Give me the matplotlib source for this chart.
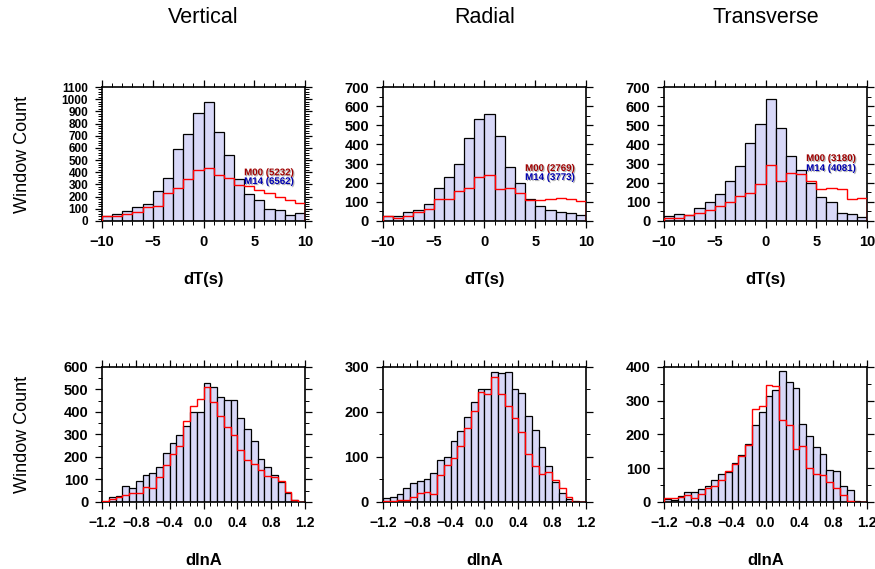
import numpy as np
import matplotlib
matplotlib.use("Agg")
import matplotlib.pyplot as plt
from matplotlib.ticker import MultipleLocator
import matplotlib.patheffects as pe

plt.rcParams['font.family'] = ['Liberation Sans', 'DejaVu Sans']

components = ["Vertical", "Radial", "Transverse"]

# dT histograms, 20 bins of 1 s from -10 to 10
dt_edges = np.arange(-10, 11, 1)
dt_m14_vertical = [44, 57, 79, 112, 136, 243, 355, 590, 718, 890,
                   977, 731, 543, 341, 224, 172, 101, 87, 52, 63]
dt_m00_vertical = [38, 44, 57, 74, 112, 126, 229, 267, 347, 420,
                   434, 379, 355, 295, 284, 251, 227, 199, 172, 145]
dt_m14_radial = [28, 28, 45, 56, 87, 170, 231, 300, 436, 531,
                 561, 446, 280, 200, 113, 76, 56, 45, 40, 30]
dt_m00_radial = [24, 17, 26, 45, 61, 113, 113, 156, 170, 231,
                 241, 167, 170, 144, 111, 111, 115, 122, 113, 102]
dt_m14_transverse = [28, 35, 33, 66, 101, 139, 207, 285, 405, 505,
                     636, 486, 340, 266, 201, 123, 101, 40, 35, 19]
dt_m00_transverse = [17, 17, 30, 40, 57, 76, 101, 130, 146, 191,
                     295, 208, 252, 247, 207, 167, 172, 167, 115, 118]

# dlnA histograms, 30 bins of 0.08 from -1.2 to 1.2
dlna_edges = np.linspace(-1.2, 1.2, 31)
dlna_m14_vertical = [2, 22, 27, 71, 62, 95, 122, 129, 157, 217,
                     261, 296, 339, 400, 400, 529, 509, 465, 451, 454,
                     374, 325, 273, 190, 154, 120, 88, 42, 10, 1]
dlna_m00_vertical = [4, 12, 22, 30, 39, 42, 65, 61, 110, 163,
                     212, 248, 358, 425, 459, 511, 444, 380, 333, 297,
                     232, 187, 168, 140, 116, 113, 94, 46, 9, 1]
dlna_m14_radial = [9, 11, 17, 31, 42, 46, 50, 65, 93, 99,
                   135, 158, 189, 223, 250, 252, 289, 286, 289, 252,
                   243, 190, 160, 123, 81, 45, 21, 6, 2, 0]
dlna_m00_radial = [3, 3, 4, 4, 10, 19, 23, 18, 60, 82,
                   98, 125, 165, 203, 245, 241, 277, 241, 214, 186,
                   155, 106, 79, 62, 66, 49, 30, 10, 1, 0]
dlna_m14_transverse = [8, 5, 19, 31, 31, 38, 46, 65, 82, 89,
                       115, 139, 173, 228, 267, 314, 333, 389, 354, 337,
                       232, 194, 162, 142, 95, 91, 47, 36, 4, 1]
dlna_m00_transverse = [11, 13, 16, 22, 13, 23, 42, 46, 65, 91,
                       112, 137, 170, 275, 285, 346, 344, 243, 227, 157,
                       166, 101, 83, 80, 60, 40, 20, 4, 1, 0]

m00_totals = [5232, 2769, 3180]
m14_totals = [6562, 3773, 4081]

dt_m14 = [dt_m14_vertical, dt_m14_radial, dt_m14_transverse]
dt_m00 = [dt_m00_vertical, dt_m00_radial, dt_m00_transverse]
dlna_m14 = [dlna_m14_vertical, dlna_m14_radial, dlna_m14_transverse]
dlna_m00 = [dlna_m00_vertical, dlna_m00_radial, dlna_m00_transverse]

dt_ymax = [1100, 700, 700]
dt_yminor = [20, 50, 50]
dlna_ymax = [600, 300, 400]
# label positions (data coords) for the M00 / M14 text
label_y = [(400, 328), (277, 230), (329, 277)]

bar_color = '#d8d8f8'

fig = plt.figure(figsize=(8.75, 5.69), dpi=100)
lefts = [0.1166, 0.4377, 0.7589]
width = 0.232


def style_axis(ax):
    for s in ax.spines.values():
        s.set_linewidth(1.2)
    ax.tick_params(which='both', direction='out', top=True, right=True,
                   labelsize=10.5)
    ax.tick_params(which='major', length=5, width=0.9, pad=5)
    ax.tick_params(which='minor', length=3, width=0.7)
    for lab in ax.get_xticklabels() + ax.get_yticklabels():
        lab.set_fontweight('bold')


for i in range(3):
    # top row: dT
    ax = fig.add_axes([lefts[i], 0.6116, width, 0.2355])
    ax.bar(dt_edges[:-1], dt_m14[i], width=1, align='edge', color=bar_color,
           edgecolor='black', linewidth=0.9, zorder=2)
    ax.stairs(dt_m00[i], dt_edges, color='red', linewidth=1.0, zorder=3)
    ax.set_xlim(-10, 10)
    ax.set_ylim(0, dt_ymax[i])
    ax.xaxis.set_major_locator(MultipleLocator(5))
    ax.xaxis.set_minor_locator(MultipleLocator(1))
    ax.yaxis.set_major_locator(MultipleLocator(100))
    ax.yaxis.set_minor_locator(MultipleLocator(dt_yminor[i]))
    style_axis(ax)
    if i == 0:
        # 12 labels in a short axis: shrink them so they crowd less
        ax.tick_params(axis='y', labelsize=8.5)
    ax.set_xlabel('dT(s)', fontsize=12, fontweight='bold')
    ax.xaxis.set_label_coords(0.5, -0.44)
    ax.xaxis.label.set_va('center')
    shadow = [pe.withSimplePatchShadow(offset=(0.8, -0.8), shadow_rgbFace='gray', alpha=0.6)]
    ax.text(4.0, label_y[i][0], 'M00 (%d)' % m00_totals[i], color='#a00000',
            fontsize=7, fontweight='bold', va='center', zorder=5, path_effects=shadow)
    ax.text(4.0, label_y[i][1], 'M14 (%d)' % m14_totals[i], color='#0000b0',
            fontsize=7, fontweight='bold', va='center', zorder=5, path_effects=shadow)
    if i == 0:
        ax.set_ylabel('Window Count', fontsize=13)
        ax.yaxis.set_label_coords(-0.394, 0.5)
        ax.yaxis.label.set_va('center')
    fig.text(lefts[i] + width / 2, 0.97, components[i], fontsize=15.5,
             ha='center', va='center')

    # bottom row: dlnA
    ax = fig.add_axes([lefts[i], 0.1178, width, 0.2373])
    ax.bar(dlna_edges[:-1], dlna_m14[i], width=0.08, align='edge', color=bar_color,
           edgecolor='black', linewidth=0.9, zorder=2)
    ax.stairs(dlna_m00[i], dlna_edges, color='red', linewidth=1.0, zorder=3)
    ax.set_xlim(-1.2, 1.2)
    ax.set_ylim(0, dlna_ymax[i])
    ax.xaxis.set_minor_locator(MultipleLocator(0.08))
    ax.yaxis.set_major_locator(MultipleLocator(100))
    ax.yaxis.set_minor_locator(MultipleLocator(50))
    xt = np.round(np.arange(-1.2, 1.21, 0.4), 1)
    ax.set_xticks(xt)
    ax.set_xticklabels([('%.1f' % abs(v)) if v >= -1e-9 else '\u2212%.1f' % abs(v) for v in xt])
    style_axis(ax)
    ax.tick_params(axis='x', labelsize=10)
    ax.set_xlabel('dlnA', fontsize=12, fontweight='bold')
    ax.xaxis.set_label_coords(0.5, -0.43)
    ax.xaxis.label.set_va('center')
    if i == 0:
        ax.set_ylabel('Window Count', fontsize=13)
        ax.yaxis.set_label_coords(-0.394, 0.5)
        ax.yaxis.label.set_va('center')

plt.savefig('out.png', dpi=100)
